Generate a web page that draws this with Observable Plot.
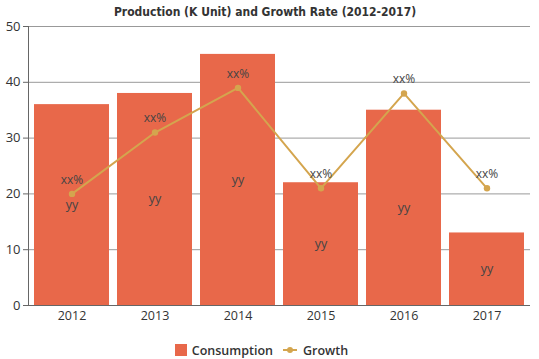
<!DOCTYPE html>
<html><head><meta charset="utf-8">
<script src="https://cdn.jsdelivr.net/npm/d3@7"></script>
<script src="https://cdn.jsdelivr.net/npm/@observablehq/plot@0.6"></script>
<style>
body{margin:0;background:#fff;font-family:"Open Sans",sans-serif;position:relative;width:539px;height:359px;overflow:hidden;}
#title{position:absolute;left:0;top:3px;width:530px;height:18px;line-height:18px;text-align:center;font-family:"DejaVu Sans",sans-serif;font-stretch:condensed;font-weight:bold;font-size:12px;color:#333;}
#chart{position:absolute;left:0;top:0;}
#legend{position:absolute;left:0;top:341px;width:523px;height:18px;display:flex;justify-content:center;align-items:center;gap:9px;font-size:12.5px;font-weight:600;color:#333;}
.sw{display:inline-block;width:12px;height:12px;background:#E8684A;margin-right:5px;}
.item{display:flex;align-items:center;}
</style></head>
<body>
<div id="chart"></div>
<div id="title">Production (K Unit) and Growth Rate (2012-2017)</div>
<div id="legend">
<span class="item"><span class="sw"></span>Consumption</span>
<span class="item"><svg width="16" height="12" style="margin-right:5px"><line x1="1" y1="6" x2="15" y2="6" stroke="#D4A54E" stroke-width="2"/><circle cx="8" cy="6" r="3" fill="#D4A54E"/></svg>Growth</span>
</div>
<script>
const years = ["2012","2013","2014","2015","2016","2017"];
const consumption = [36, 38, 45, 22, 35, 13];
const growth = [20, 31, 39, 21, 38, 21];
const barLabel = "yy";
const growthLabel = "xx%";
const yTicks = [0,10,20,30,40,50];

const data = years.map((y,i)=>({year:y, c:consumption[i], g:growth[i]}));
const barColor = "#E8684A";
const lineColor = "#D4A54E";

const chart = Plot.plot({
  width: 539,
  height: 330,
  marginLeft: 28,
  marginRight: 9,
  marginTop: 26,
  marginBottom: 25,
  style: {fontFamily: "Open Sans, sans-serif", fontSize: "12px", color: "#333"},
  x: {domain: years, paddingInner: 0.1, paddingOuter: 0.05, label: null},
  y: {domain: [0,50], ticks: yTicks, label: null},
  marks: [
    Plot.ruleY(yTicks.filter(d=>d>0), {stroke: "#999", strokeWidth: 1}),
    Plot.barY(data, {x: "year", y: "c", fill: barColor}),
    Plot.ruleY([0], {stroke: "#666"}),
    Plot.axisY({ticks: yTicks, tickSize: 5, stroke: "#666", fontSize: 13, tickPadding: 3}),
    Plot.axisX({tickSize: 0, fontSize: 12.5, tickPadding: 6}),
    Plot.text(data, {x: "year", y: d=>d.c/2, text: ()=>barLabel, fill: "#444", fontSize: 12.5}),
    Plot.line(data, {x: "year", y: "g", stroke: lineColor, strokeWidth: 2}),
    Plot.dot(data, {x: "year", y: "g", fill: lineColor, r: 3.2}),
    Plot.text(data, {x: "year", y: "g", text: ()=>growthLabel, dy: -14, fill: "#444", fontSize: 12})
  ]
});
d3.select(chart).append("line").attr("x1",28.5).attr("x2",28.5).attr("y1",26).attr("y2",305).attr("stroke","#666");
document.getElementById("chart").appendChild(chart);
</script>
</body></html>
